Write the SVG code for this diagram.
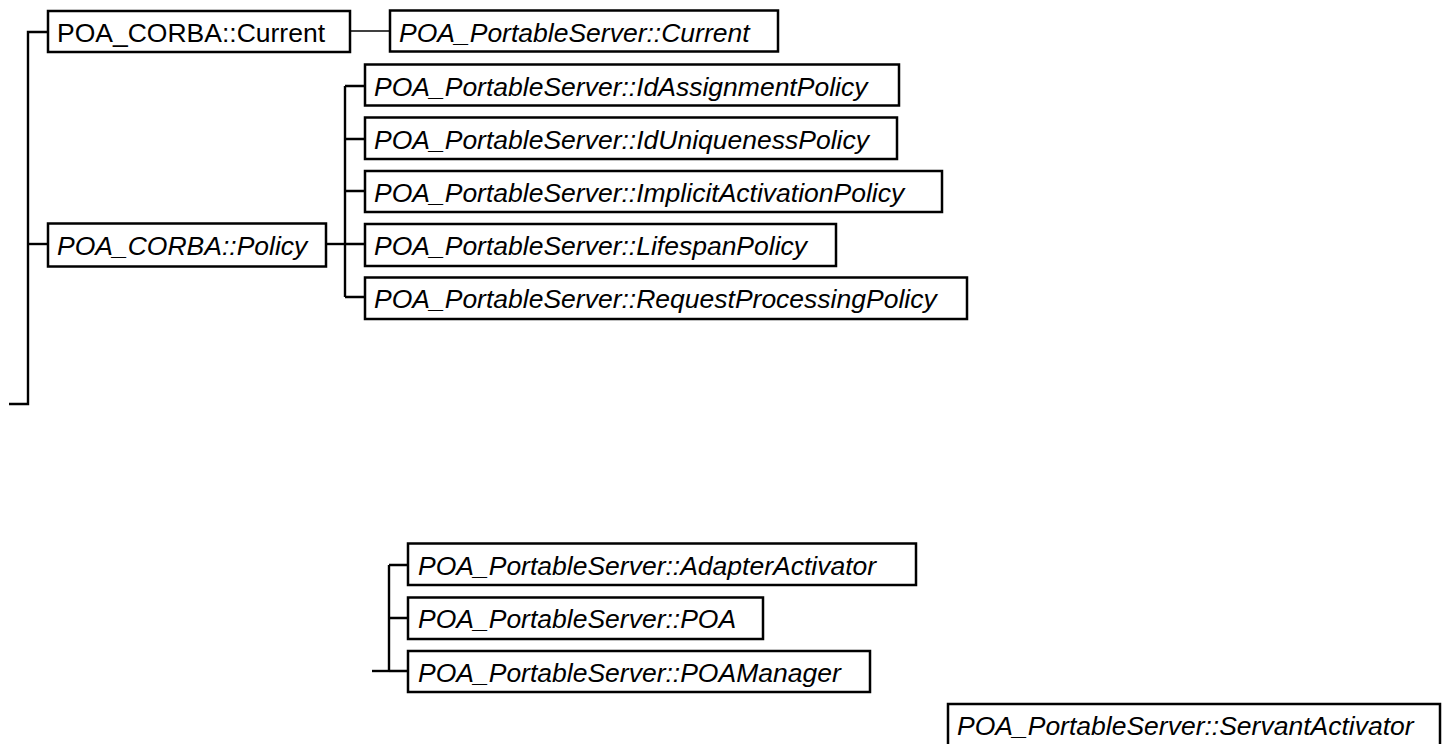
<svg xmlns="http://www.w3.org/2000/svg" width="1442" height="744" viewBox="0 0 1442 744">
<style>
.box{fill:#ffffff;stroke:#000000;stroke-width:2.5}
.lbl{font-family:"Liberation Sans",Arial,sans-serif;font-size:26.5px;fill:#000000}
.it{font-style:italic}
.edge{fill:none;stroke:#000000;stroke-width:2.4}
.thin{stroke-width:1.6}
</style>
<rect width="1442" height="744" fill="#ffffff"/>
<g id="connectors">
<path class="edge" d="M9,404 H28 V32 H48"/>
<path class="edge" d="M28,244 H48"/>
<path class="edge thin" d="M350,31 H390"/>
<path class="edge" d="M326,244 H345"/>
<path class="edge" d="M345,86 V297"/>
<path class="edge" d="M345,86 H365 M345,139 H365 M345,191 H365 M345,244 H365 M345,297 H365"/>
<path class="edge" d="M372,671 H389"/>
<path class="edge" d="M389,565 V671"/>
<path class="edge" d="M389,565 H408 M389,618 H408 M389,671 H408"/>
</g>
<g id="node-corba-current">
<rect class="box" x="48" y="11" width="302" height="41"/>
<text class="lbl" x="57" y="42">POA_CORBA::Current</text>
</g>
<g id="node-ps-current">
<rect class="box" x="390" y="10.5" width="388" height="41"/>
<text class="lbl it" x="399" y="42">POA_PortableServer::Current</text>
</g>
<g id="node-corba-policy">
<rect class="box" x="48" y="223.5" width="278" height="43"/>
<text class="lbl it" x="57" y="255">POA_CORBA::Policy</text>
</g>
<g id="node-idassignment">
<rect class="box" x="365" y="64.5" width="534" height="41"/>
<text class="lbl it" x="374" y="95.5">POA_PortableServer::IdAssignmentPolicy</text>
</g>
<g id="node-iduniqueness">
<rect class="box" x="365" y="117.5" width="532" height="41.5"/>
<text class="lbl it" x="374" y="148.5">POA_PortableServer::IdUniquenessPolicy</text>
</g>
<g id="node-implicitactivation">
<rect class="box" x="365" y="171" width="577" height="41"/>
<text class="lbl it" x="374" y="201.5">POA_PortableServer::ImplicitActivationPolicy</text>
</g>
<g id="node-lifespan">
<rect class="box" x="365" y="224" width="471" height="42"/>
<text class="lbl it" x="374" y="255">POA_PortableServer::LifespanPolicy</text>
</g>
<g id="node-requestprocessing">
<rect class="box" x="365" y="277.5" width="602" height="41.5"/>
<text class="lbl it" x="374" y="308">POA_PortableServer::RequestProcessingPolicy</text>
</g>
<g id="node-adapteractivator">
<rect class="box" x="408" y="543.5" width="508" height="41.5"/>
<text class="lbl it" x="418" y="575">POA_PortableServer::AdapterActivator</text>
</g>
<g id="node-poa">
<rect class="box" x="408" y="597.5" width="355" height="41.5"/>
<text class="lbl it" x="418" y="628">POA_PortableServer::POA</text>
</g>
<g id="node-poamanager">
<rect class="box" x="408" y="651" width="462" height="41"/>
<text class="lbl it" x="418" y="682">POA_PortableServer::POAManager</text>
</g>
<g id="node-servantactivator">
<rect class="box" x="948" y="704" width="492" height="42"/>
<text class="lbl it" x="957" y="735">POA_PortableServer::ServantActivator</text>
</g>
</svg>
